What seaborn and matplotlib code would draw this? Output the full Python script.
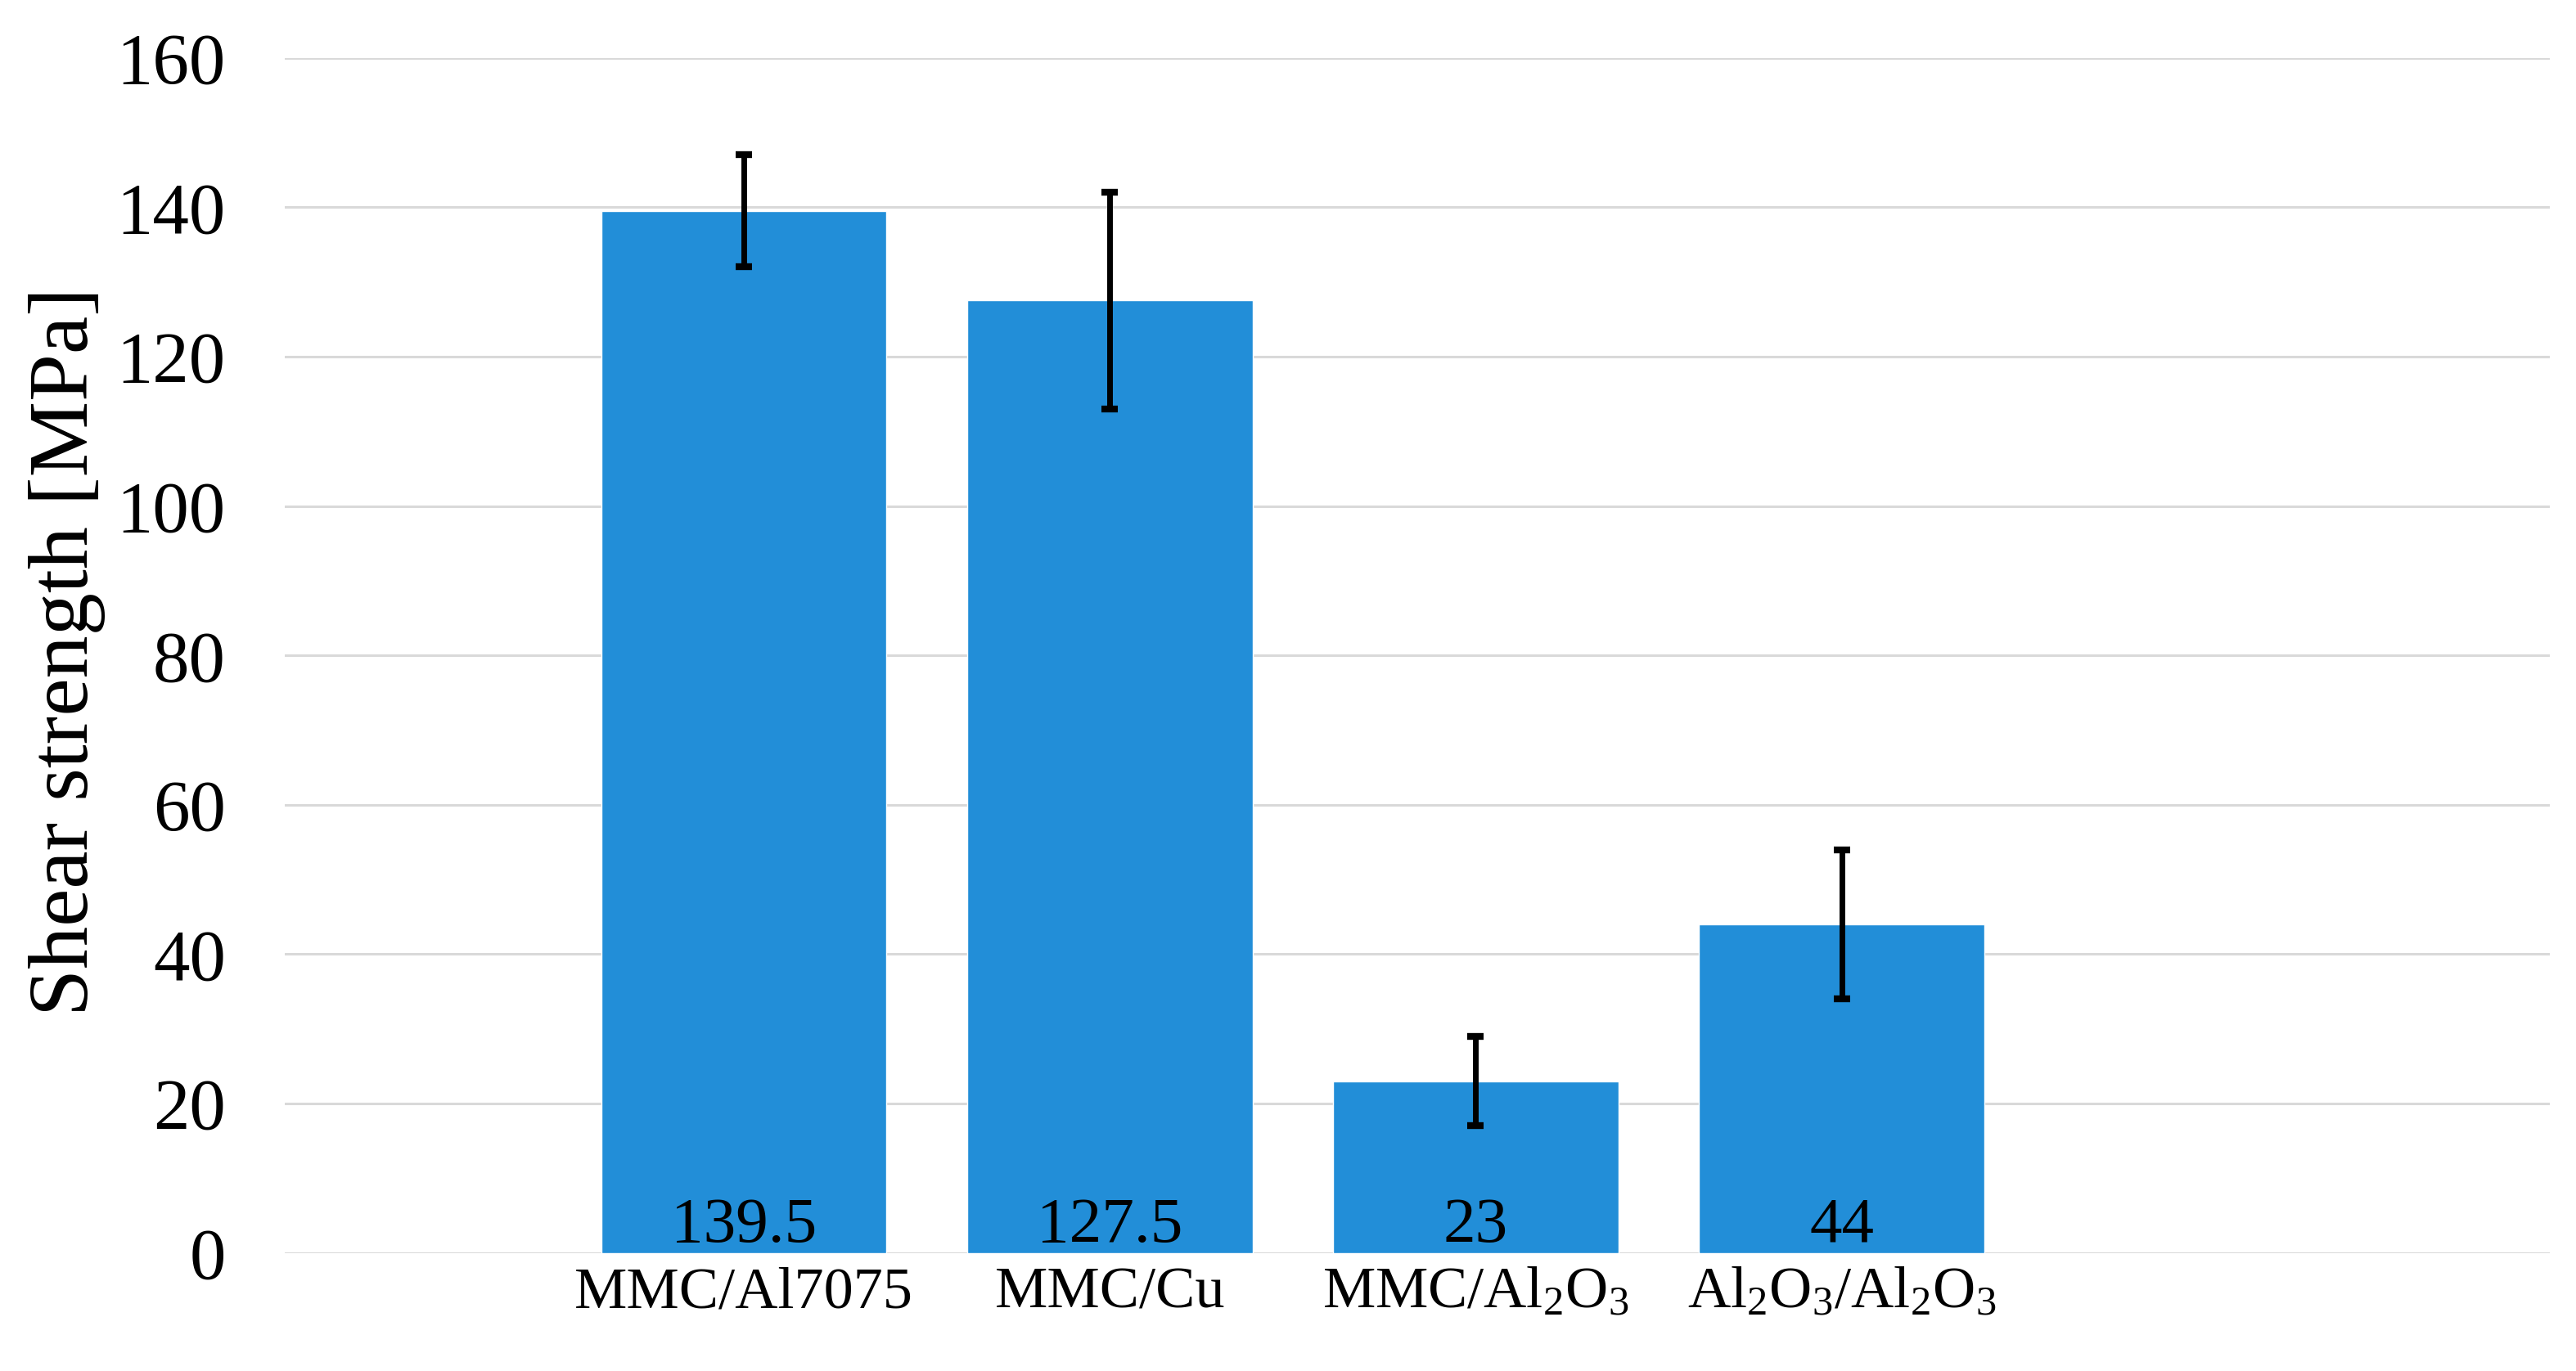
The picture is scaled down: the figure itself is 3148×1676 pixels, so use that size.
import matplotlib
matplotlib.use("Agg")
import matplotlib.pyplot as plt
import seaborn as sns
import pandas as pd

# =====================================================
# DATA
# =====================================================

categories = [
    "MMC/Al7075",
    "MMC/Cu",
    "MMC/Al$_2$O$_3$",
    "Al$_2$O$_3$/Al$_2$O$_3$",
]

shear_strength = [139.5, 127.5, 23, 44]

shear_err = [7.5, 14.5, 6, 10]

y_ticks = [0, 20, 40, 60, 80, 100, 120, 140, 160]

BAR_COLOR = "#228ed8"
GRID_COLOR = "#d9d9d9"

# =====================================================
# STYLE
# =====================================================

sns.set_style("white")
plt.rcParams["font.family"] = ["Liberation Serif", "DejaVu Serif"]
plt.rcParams["mathtext.fontset"] = "custom"
plt.rcParams["mathtext.rm"] = "Liberation Serif"
plt.rcParams["mathtext.it"] = "Liberation Serif"
plt.rcParams["mathtext.default"] = "regular"
plt.rcParams["text.color"] = "black"
plt.rcParams["axes.labelcolor"] = "black"
plt.rcParams["xtick.color"] = "black"
plt.rcParams["ytick.color"] = "black"

df = pd.DataFrame({
    "category": categories,
    "value": shear_strength,
})

# =====================================================
# PLOT
# =====================================================

fig = plt.figure(figsize=(31.48, 16.76), dpi=100)
ax = fig.add_axes([0.1105, 0.0862, 0.8793, 0.8716])

sns.barplot(
    data=df,
    x="category",
    y="value",
    order=categories,
    color=BAR_COLOR,
    saturation=1,
    width=0.78,
    errorbar=None,
    ax=ax,
    zorder=2
)

ax.errorbar(
    x=range(len(categories)),
    y=shear_strength,
    yerr=shear_err,
    fmt="none",
    ecolor="black",
    elinewidth=5,
    capsize=7,
    capthick=6,
    zorder=3
)

# value labels at bar base
for i, v in enumerate(shear_strength):
    ax.annotate(
        f"{v:g}",
        (i, 0),
        xytext=(0, 10),
        textcoords="offset points",
        ha="center",
        va="baseline",
        fontsize=57,
        color="black",
        zorder=4
    )

ax.set_ylim(0, 160)
ax.set_xlim(-1.255, 4.935)
ax.set_yticks(y_ticks)

ax.yaxis.grid(True, color=GRID_COLOR, linewidth=2.2, zorder=0)
ax.xaxis.grid(False)
ax.set_axisbelow(True)

for side in ["top", "right", "left", "bottom"]:
    ax.spines[side].set_visible(False)

ax.tick_params(axis="y", length=0, pad=52, labelsize=64, labelcolor="black")
ax.tick_params(axis="x", length=0, pad=12, labelsize=52, labelcolor="black")

ax.set_xlabel("")
ax.set_ylabel("Shear strength [MPa]", fontsize=75, color="black")
ax.yaxis.set_label_coords(-0.079, 0.503)

fig.savefig("out.png", dpi=100)
plt.close(fig)
